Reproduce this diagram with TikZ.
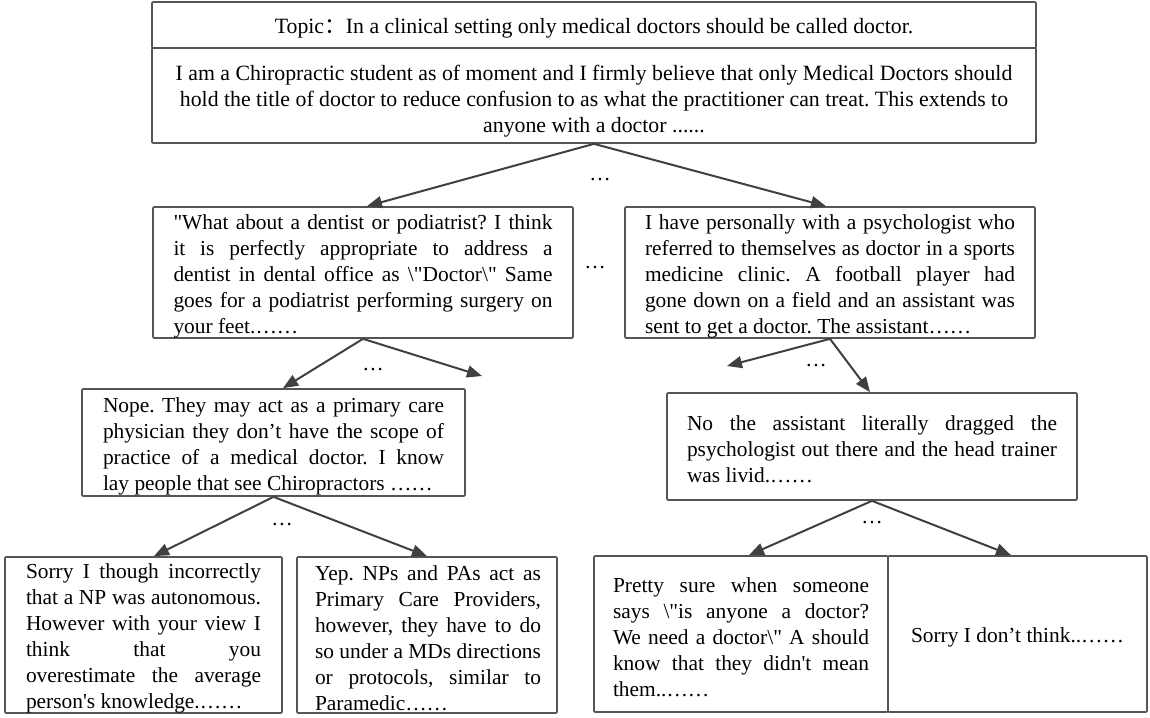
\documentclass[tikz,border=0pt]{standalone}
\usepackage{fontspec}
\setmainfont{Liberation Serif}
\newfontfamily\cjk{Noto Sans CJK SC}
\usetikzlibrary{arrows.meta}
\definecolor{boxgray}{HTML}{555555}
\definecolor{arrgray}{HTML}{404040}
\newlength\jw
\newcommand{\JL}[1]{{\spaceskip=0pt\xspaceskip=0pt\makebox[\jw][s]{#1}}}
\newcommand{\LL}[1]{{\spaceskip=0pt\xspaceskip=0pt\makebox[\jw][l]{#1}}}
\newcommand{\bs}{\textbackslash}
\newcommand{\qd}{\textquotedbl}
\tikzset{
  frame/.style={draw=boxgray, line width=1.7pt, rounded corners=1pt, inner sep=0pt},
  setjw/.code={\global\jw=#1\relax},
  txt/.style={inner sep=0pt, align=left, font=\fontsize{21.4}{26}\selectfont\frenchspacing},
  toptxt/.style={inner sep=0pt, align=center, font=\fontsize{21.8}{26}\selectfont\frenchspacing},
  conn/.style={draw=arrgray, line width=2pt, -{Triangle[length=15pt,width=12pt]}},
  dots/.style={font=\fontsize{21.4}{26}\selectfont, inner sep=0pt}
}
\begin{document}
\begin{tikzpicture}[x=1pt,y=-1pt]
\useasboundingbox (0,0) rectangle (1150,717);

% top box
\node[frame, minimum width=884pt, minimum height=46pt] (topic) at (594,25) {};
\node[toptxt] (topict) at ([yshift=-3pt]topic.center)
  {{\spaceskip=0pt Topic{\cjk ：}In a clinical setting only medical doctors should be called doctor.}};
\node[frame, minimum width=884pt, minimum height=95pt] (body) at (594,95.5) {};
\node[toptxt] (bodyt) at ([yshift=-6pt]body.center)
  {{\spaceskip=0pt I am a Chiropractic student as of moment and I firmly believe that only Medical Doctors should}\\
   {\spaceskip=0pt hold the title of doctor to reduce confusion to as what the practitioner can treat. This extends to}\\
   {\spaceskip=0pt anyone with a doctor ......}};

% second level
\node[frame, minimum width=420pt, minimum height=131pt] (L1) at (363,272.5) {};
\node[txt, setjw=379pt] (L1t) at ([yshift=-4pt]L1.center)
  {\JL{\qd What about a dentist or podiatrist? I think}\\
   \JL{it is perfectly appropriate to address a}\\
   \JL{dentist in dental office as \bs\qd Doctor\bs\qd{} Same}\\
   \JL{goes for a podiatrist performing surgery on}\\
   \LL{your feet.……}};
\node[frame, minimum width=410pt, minimum height=131pt] (R1) at (830,272.5) {};
\node[txt, setjw=370pt] (R1t) at ([yshift=-4pt]R1.center)
  {\JL{I have personally with a psychologist who}\\
   \JL{referred to themselves as doctor in a sports}\\
   \JL{medicine clinic. A football player had}\\
   \JL{gone down on a field and an assistant was}\\
   \LL{sent to get a doctor. The assistant……}};

% third level
\node[frame, minimum width=383pt, minimum height=107pt] (nope) at (273.5,442.5) {};
\node[txt, setjw=341pt] (nopet) at ([yshift=-4pt]nope.center)
  {\JL{Nope. They may act as a primary care}\\
   \JL{physician they don’t have the scope of}\\
   \JL{practice of a medical doctor. I know}\\
   \LL{lay people that see Chiropractors ……}};
\node[frame, minimum width=410pt, minimum height=107pt] (nobox) at (872,446.5) {};
\node[txt, setjw=370pt] (noboxt) at ([yshift=-3pt]nobox.center)
  {\JL{No the assistant literally dragged the}\\
   \JL{psychologist out there and the head trainer}\\
   \LL{was livid.……}};

% bottom level
\node[frame, minimum width=277pt, minimum height=156pt] (A) at (143.5,635) {};
\node[txt, setjw=235pt] (At) at ([yshift=-3pt]A.center)
  {\JL{Sorry I though incorrectly}\\
   \JL{that a NP was autonomous.}\\
   \JL{However with your view I}\\
   \JL{think that you}\\
   \JL{overestimate the average}\\
   \LL{person\textquotesingle s knowledge.……}};
\node[frame, minimum width=260pt, minimum height=156pt] (B) at (427,635) {};
\node[txt, setjw=226pt] (Bt) at ([xshift=1pt,yshift=-3pt]B.center)
  {\JL{Yep. NPs and PAs act as}\\
   \JL{Primary Care Providers,}\\
   \JL{however, they have to do}\\
   \JL{so under a MDs directions}\\
   \JL{or protocols, similar to}\\
   \LL{Paramedic……}};
\node[frame, minimum width=294pt, minimum height=156pt] (C) at (741,634) {};
\node[txt, setjw=256pt] (Ct) at ([yshift=-3pt]C.center)
  {\JL{Pretty sure when someone}\\
   \JL{says \bs\qd is anyone a doctor?}\\
   \JL{We need a doctor\bs\qd{} A should}\\
   \JL{know that they didn\textquotesingle t mean}\\
   \LL{them..……}};
\node[frame, minimum width=259pt, minimum height=156pt] (D) at (1017.5,634) {};
\node[txt] (Dt) at ([yshift=-3pt]D.center) {Sorry I don’t think..……};

% dots
\node[dots] (d1) at (600,180) {…};
\node[dots] (d2) at (595,268) {…};
\node[dots] (d3) at (373,370) {…};
\node[dots] (d4) at (816,366) {…};
\node[dots] (d5) at (282,525) {…};
\node[dots] (d6) at (872,523) {…};

% free arrow ends
\coordinate (fL) at (482,376);
\coordinate (fR) at (727,366);

% connectors
\draw[conn] (body.south) -- ([xshift=4pt]L1.north);
\draw[conn] (body.south) -- ([xshift=-4pt]R1.north);
\draw[conn] (L1.south) -- ([xshift=9.5pt]nope.north);
\draw[conn] (L1.south) -- (fL);
\draw[conn] (R1.south) -- (fR);
\draw[conn] (R1.south) -- ([xshift=-2pt]nobox.north);
\draw[conn] (nope.south) -- ([xshift=10.5pt]A.north);
\draw[conn] (nope.south) -- (B.north);
\draw[conn] (nobox.south) -- ([xshift=8pt]C.north);
\draw[conn] (nobox.south) -- ([xshift=-6.5pt]D.north);
\end{tikzpicture}
\end{document}
